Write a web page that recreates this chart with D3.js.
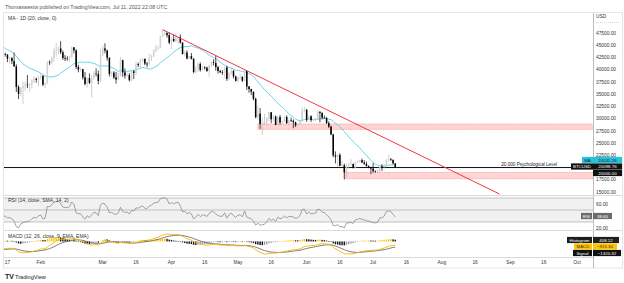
<!DOCTYPE html>
<html><head><meta charset="utf-8">
<script src="https://cdn.jsdelivr.net/npm/d3@7"></script>
<style>
body{margin:0;background:#fff;}
svg{display:block;font-family:"Liberation Sans",Arial,sans-serif;}
</style></head><body>
<svg id="c" width="624" height="283"></svg>
<script>
// ---------- DATA ----------
const startDate = "2022-01-15"; // first visible daily candle (BTCUSD, 1D)
const opens = [43099,43177,43113,42250,42375,41744,40680,36457,35030,36276,36654,36954,36852,37138,37784,38138,37917,
38483,38743,36952,37154,41500,41441,42412,43840,44118,44338,43565,42407,42244,42197,42586,44575,43961,40538,40030,40122,38431,37075,38286,37296,38332,39214,39105,37709,
43193,44354,43925,42452,39137,39400,38420,37988,38730,41941,39439,38794,38904,37849,39666,39338,41143,40951,41801,42191,41247,41078,42358,42892,43960,44348,44500,46820,47128,47465,47062,
45538,46281,45868,46453,46622,45555,43206,43503,42287,42782,42207,39521,40127,41166,39936,40553,40424,39716,40827,41503,41374,40527,39740,39478,39470,40458,38117,39241,39773,38610,
37714,38469,38529,37750,39698,36576,36040,35501,34059,30296,31023,28936,29047,29283,30101,31305,29862,30425,28720,30314,29200,29432,30323,29098,29655,29562,29268,28627,28814,29445,31726,
31792,29799,30467,29704,29832,29906,31370,31155,30214,30112,29083,28360,26762,22487,22206,22572,20381,20471,19017,20553,20599,20710,19987,21085,21231,21502,21028,20735,20280,20105,
19785,19269,19243,19297,20231,20190,20548,21637,21731,21592,20860];
const highs = [43800,43480,43180,42700,42580,43500,41100,36840,36500,37550,37550,38920,37230,38000,38720,38360,38750,
39250,38850,37390,41730,41900,42650,44500,45500,44800,45850,43920,43000,42760,42880,44750,44580,44180,40980,40450,40150,39500,38450,39250,39000,39700,40300,39850,44200,
44950,45400,44100,42500,39650,39700,39550,39380,42600,42030,40250,39400,39300,39900,39900,41700,41450,42300,42400,42300,41550,43350,43000,44200,45100,44800,46900,48190,48100,47700,47600,
46700,47200,47450,46900,47200,45555,43900,43950,42800,43400,42400,40700,41550,41500,40850,40700,40600,41000,41750,42150,42950,40800,39950,39900,40600,40800,39450,40350,39900,38800,
38650,39150,38650,39900,39850,36650,36100,35510,34250,32650,32150,30050,31000,30300,31400,31320,30750,30650,30500,30750,29600,30450,30650,29800,30200,29850,29350,28950,29550,32200,32400,
31950,30650,30680,29950,30150,31700,31550,31300,30650,30350,29450,28550,26900,23300,22750,22950,21350,20800,20800,21000,21700,20850,21200,21500,21600,21850,21500,21200,20450,20150,
20900,19400,19650,20300,20700,20650,21800,22500,21950,21600,20880];
const lows = [42600,42690,41540,41250,41150,40570,35440,34010,34600,32950,35700,36250,35510,36160,37300,37350,36630,
38000,36630,36250,37050,40980,41120,41660,42680,43120,43200,42000,41750,41870,41570,42430,43340,40120,39450,39640,38000,36800,36350,37050,34320,38000,38600,37000,37450,
42800,43350,41850,38600,38600,38100,37150,37900,38650,38550,38200,38650,37600,37600,38100,38900,40500,40150,41500,40900,40500,40900,41800,42600,43600,44100,44400,46650,46950,46550,45200,
44250,45650,45550,45150,45350,43100,42750,42100,42150,42100,39250,39250,39600,39600,39780,40000,39600,38550,40600,40850,39800,39200,39300,38950,38200,37700,37900,38900,38200,37600,
37400,38050,37500,37650,35850,35300,34800,33700,30050,29750,27900,26700,28800,28600,29500,29100,29450,28650,28650,28750,28950,29250,28900,28600,29300,28050,28300,28450,28700,29300,31250,
29350,29600,29300,29500,29500,29880,29250,29850,30000,28900,28100,26600,22100,20850,20100,20250,20300,17600,17950,19650,20350,19800,19900,20900,20900,20950,20550,20200,19850,18650,
18950,18950,18800,19050,19300,19750,20250,21200,21350,20650,19950];
const closes = [43177,43113,42250,42375,41744,40680,36457,35030,36276,36654,36954,36852,37138,37784,38138,37917,38483,
38743,36952,37154,41500,41441,42412,43840,44118,44338,43565,42407,42244,42197,42586,44575,43961,40538,40030,40122,38431,37075,38286,37296,38332,39214,39105,37709,43193,
44354,43925,42452,39137,39400,38420,37988,38730,41941,39439,38794,38904,37849,39666,39338,41143,40951,41801,42191,41247,41078,42358,42892,43960,44348,44500,46820,47128,47465,47062,45538,
46281,45868,46453,46622,45555,43206,43503,42287,42782,42207,39521,40127,41166,39936,40553,40424,39716,40827,41503,41374,40527,39740,39478,39470,40458,38117,39241,39773,38610,37714,
38469,38529,37750,39698,36576,36040,35501,34059,30296,31023,28936,29047,29283,30101,31305,29862,30425,28720,30314,29200,29432,30323,29098,29655,29562,29268,28627,28814,29445,31726,31792,
29799,30467,29704,29832,29906,31370,31155,30214,30112,29083,28360,26762,22487,22206,22572,20381,20471,19017,20553,20599,20710,19987,21085,21231,21502,21028,20735,20280,20105,19785,
19269,19243,19297,20231,20190,20548,21637,21731,21592,20860,20099];
// closes before the visible window (2021-11-01 .. 2022-01-14), only used to seed the indicators
const priorCloses = [61300,63227,62926,61444,61007,61528,63327,67566,66971,64996,64950,64155,64470,65466,63557,60161,60368,56943,58120,59697,58730,56290,57569,57166,58960,53727,54722,57275,57806,56950,
57229,56508,53713,49253,49368,50582,50700,50504,47672,47243,49362,50098,46737,48379,48864,47632,46131,46834,46681,46914,48890,48588,50838,50820,50399,50775,50702,47543,46464,47120,46216,
47722,47287,46446,45833,43425,43082,41566,41864,41822,41822,42736,43949,42592,43099];

// axis tick labels shown (20000 is covered by the level tag in the original)
const priceTicks = [15000,17500,22500,25000,27500,30000,32500,35000,37500,40000,42500,45000,47500];
const rsiTicks = [20,60];
const rsiBands = [70,50,30];
const timeTickDates = ["2022-01-17","2022-02-01","2022-03-01","2022-03-16","2022-04-01","2022-04-16","2022-05-01","2022-05-16","2022-06-01","2022-06-16","2022-07-01","2022-07-16","2022-08-01","2022-08-16","2022-09-01","2022-09-16","2022-10-01"];
const timeTickLabels = ["17","Feb","Mar","16","Apr","16","May","16","Jun","16","Jul","16","Aug","16","Sep","16","Oct"];
const zoneStarts = ["2022-05-10","2022-06-18"];
const zoneLows = [27800,17700];
const zoneHighs = [28900,19000];
const trendDates = ["2022-03-28","2022-08-27"];
const trendPrices = [48190,14600];
const psychLevel = 20000;
const psychText = "20,000 Psychological Level";
const lastValues = {ma:"20531.26", btc:"20098.76", level:"20000.00", rsi:"38.60", hist:"408.12", macd:"−915.30", signal:"−1320.32"};

// ---------- LAYOUT ----------
const svg = d3.select("#c");
const parse = d3.utcParse("%Y-%m-%d");
const start = parse(startDate);
const dates = closes.map((_, i) => d3.utcDay.offset(start, i));
const L = 4, R = 593;
const main = {t:13, b:195}, rsiP = {t:195, b:230}, macdP = {t:230, b:257};

const x = d3.scaleUtc().domain([parse("2022-02-01"), parse("2022-10-01")]).range([40.7, 577]);
const y = d3.scaleLinear().domain([15000, 47500]).range([192, 33]);
const yR = d3.scaleLinear().domain([30, 70]).range([222, 198]);

// ---------- indicators ----------
const all = priorCloses.concat(closes);
const off = priorCloses.length;
function sma(src, n){ return src.map((v,i)=> i<n-1?null:d3.sum(src.slice(i-n+1,i+1))/n); }
function ema(src, n){ const a=2/(n+1); const o=[]; src.forEach((v,i)=>{o.push(i===0?v:a*v+(1-a)*o[i-1]);}); return o; }
function rsiCalc(src, n){
  const out=[null]; let ag=0, al=0;
  for(let i=1;i<src.length;i++){
    const ch=src[i]-src[i-1], g=Math.max(ch,0), l=Math.max(-ch,0);
    if(i<=n){ ag+=g/n; al+=l/n; out.push(i===n? 100-100/(1+ag/al):null); }
    else { ag=(ag*(n-1)+g)/n; al=(al*(n-1)+l)/n; out.push(al===0?100:100-100/(1+ag/al)); }
  }
  return out;
}
const ma20 = sma(all,20).slice(off);
const rsi = rsiCalc(all,14).slice(off);
const e12 = ema(all,12), e26 = ema(all,26);
const macdAll = e12.map((v,i)=>v-e26[i]);
const sigAll = ema(macdAll,9);
const macd = macdAll.slice(off), sig = sigAll.slice(off);
const hist = macd.map((v,i)=>v-sig[i]);
const histPrev = macdAll.map((v,i)=>v-sigAll[i]).slice(off-1);

const mExt = d3.extent(macd.concat(sig, hist));
const yM = d3.scaleLinear().domain(mExt).range([macdP.b-3, macdP.t+4]);

// ---------- frame ----------
const defs = svg.append("defs");
[["cMain",main],["cRsi",rsiP],["cMacd",macdP]].forEach(([id,p])=>{
  defs.append("clipPath").attr("id",id).append("rect").attr("x",L).attr("y",p.t).attr("width",R-L).attr("height",p.b-p.t);
});

svg.append("text").attr("x",5).attr("y",9).attr("font-size",5.2).attr("fill","#555")
  .text("Thomaswestw published on TradingView.com, Jul 11, 2022 22:08 UTC");

svg.append("rect").attr("x",3.5).attr("y",12.5).attr("width",619).attr("height",255.5)
  .attr("fill","none").attr("stroke","#e6e6e6");
svg.append("line").attr("x1",R+0.5).attr("x2",R+0.5).attr("y1",13).attr("y2",268).attr("stroke","#bdbdbd");
[rsiP.t, macdP.t].forEach(v=>svg.append("line").attr("x1",L).attr("x2",622).attr("y1",v+0.5).attr("y2",v+0.5).attr("stroke","#dadada"));
svg.append("line").attr("x1",L).attr("x2",R).attr("y1",macdP.b+0.5).attr("y2",macdP.b+0.5).attr("stroke","#dadada");

// ---------- main pane ----------
const gm = svg.append("g").attr("clip-path","url(#cMain)");
// zones
zoneStarts.forEach((d,i)=>{
  const x0 = x(parse(d)), y0 = y(zoneHighs[i]), y1 = y(zoneLows[i]);
  gm.append("rect").attr("x",x0).attr("y",y0).attr("width",R-x0).attr("height",y1-y0).attr("fill","#ffd4d4");
  [y0,y1].forEach(v=>gm.append("line").attr("x1",x0).attr("x2",R).attr("y1",v).attr("y2",v)
     .attr("stroke","#f59a9a").attr("stroke-width",0.8).attr("stroke-dasharray","1.5,1"));
  gm.append("line").attr("x1",x0).attr("x2",x0).attr("y1",y0).attr("y2",y1).attr("stroke","#f59a9a").attr("stroke-width",0.8).attr("stroke-dasharray","1.5,1");
});
// psychological level
gm.append("line").attr("x1",L).attr("x2",R).attr("y1",y(psychLevel)).attr("y2",y(psychLevel)).attr("stroke","#111").attr("stroke-width",1);
gm.append("text").attr("x",557).attr("y",y(psychLevel)-2).attr("text-anchor","end").attr("font-size",4.6).attr("fill","#222").text(psychText);
// MA
gm.append("path").datum(ma20.map((v,i)=>[dates[i],v]))
  .attr("d",d3.line().x(d=>x(d[0])).y(d=>y(d[1]))).attr("fill","none").attr("stroke","#55d0e6").attr("stroke-width",0.9);
// candles
const bw = 1.5;
const cg = gm.append("g").selectAll("g").data(closes).join("g");
cg.append("line").attr("x1",(d,i)=>x(dates[i])).attr("x2",(d,i)=>x(dates[i]))
  .attr("y1",(d,i)=>y(highs[i])).attr("y2",(d,i)=>y(lows[i]))
  .attr("stroke",(d,i)=>d>=opens[i]?"#bcbcbc":"#000").attr("stroke-width",0.7);
cg.append("rect").attr("x",(d,i)=>x(dates[i])-bw/2).attr("width",bw)
  .attr("y",(d,i)=>y(Math.max(d,opens[i])))
  .attr("height",(d,i)=>Math.max(0.6,Math.abs(y(d)-y(opens[i]))))
  .attr("fill",(d,i)=>d>=opens[i]?"#d2d2d2":"#000");
// trendline
gm.append("line").attr("x1",x(parse(trendDates[0]))).attr("y1",y(trendPrices[0]))
  .attr("x2",x(parse(trendDates[1]))).attr("y2",y(trendPrices[1])).attr("stroke","#f23645").attr("stroke-width",1);
gm.append("text").attr("x",8).attr("y",20).attr("font-size",5).attr("fill","#333").text("MA - 1D (20, close, 0)");

// price axis
svg.append("text").attr("x",596).attr("y",18).attr("font-size",4.8).attr("fill","#333").text("USD");
svg.append("line").attr("x1",596).attr("x2",620).attr("y1",22.5).attr("y2",22.5).attr("stroke","#aaa").attr("stroke-width",0.5).attr("stroke-dasharray","1,1");
svg.append("g").selectAll("text").data(priceTicks).join("text")
  .attr("x",596).attr("y",d=>y(d)).attr("dy","0.35em").attr("font-size",4.8).attr("fill","#333")
  .text(d=>d3.format(".2f")(d));

function tag(xl, yc, w, txt, bg, fg){
  svg.append("rect").attr("x",xl).attr("y",yc-3.1).attr("width",w).attr("height",6.2).attr("fill",bg);
  svg.append("text").attr("x",xl+w/2).attr("y",yc).attr("dy","0.35em").attr("text-anchor","middle")
    .attr("font-size",4.4).attr("fill",fg).text(txt);
}
tag(582,160,11,"MA","#22c4e0","#222"); tag(593,160,29,lastValues.ma,"#22c4e0","#222");
tag(571,166.5,22,"BTCUSD","#111","#fff"); tag(593,166.5,29,lastValues.btc,"#111","#fff");
tag(593,173,29,lastValues.level,"#111","#fff");

// ---------- RSI pane ----------
const gr = svg.append("g").attr("clip-path","url(#cRsi)");
gr.append("rect").attr("x",L).attr("width",R-L).attr("y",yR(70)).attr("height",yR(30)-yR(70)).attr("fill","#f1f1f1");
rsiBands.forEach(v=>gr.append("line").attr("x1",L).attr("x2",R).attr("y1",yR(v)).attr("y2",yR(v)).attr("stroke","#a9a9a9").attr("stroke-width",0.7));
gr.append("path").datum(rsi.map((v,i)=>[dates[i],v]))
  .attr("d",d3.line().x(d=>x(d[0])).y(d=>yR(d[1]))).attr("fill","none").attr("stroke","#8a8a8a").attr("stroke-width",0.8);
svg.append("text").attr("x",8).attr("y",202).attr("font-size",5).attr("fill","#333").text("RSI (14, close, SMA, 14, 2)");
svg.append("g").selectAll("text").data(rsiTicks).join("text")
  .attr("x",596).attr("y",d=>yR(d)).attr("dy","0.35em").attr("font-size",4.8).attr("fill","#333").text(d=>d3.format(".2f")(d));
tag(581,216,11,"RSI","#6b6b6b","#fff"); tag(593,216,19,lastValues.rsi,"#6b6b6b","#fff");

// ---------- MACD pane ----------
const gmc = svg.append("g").attr("clip-path","url(#cMacd)");
gmc.append("g").selectAll("rect").data(hist).join("rect")
  .attr("x",(d,i)=>x(dates[i])-0.7).attr("width",1.4)
  .attr("y",d=>Math.min(yM(d),yM(0))).attr("height",d=>Math.max(0.5,Math.abs(yM(d)-yM(0))))
  .attr("fill",(d,i)=>{const p=histPrev[i]; if(d>=0) return d>p?"#ffc400":"#111"; return d<p?"#111":"#9a9a9a";});
gmc.append("path").datum(sig.map((v,i)=>[dates[i],v]))
  .attr("d",d3.line().x(d=>x(d[0])).y(d=>yM(d[1]))).attr("fill","none").attr("stroke","#6d6d6d").attr("stroke-width",0.9);
gmc.append("path").datum(macd.map((v,i)=>[dates[i],v]))
  .attr("d",d3.line().x(d=>x(d[0])).y(d=>yM(d[1]))).attr("fill","none").attr("stroke","#f7b500").attr("stroke-width",0.9);
svg.append("text").attr("x",8).attr("y",238).attr("font-size",5).attr("fill","#333").text("MACD (12, 26, close, 9, EMA, EMA)");
tag(567,240,25,"Histogram","#1e1e1e","#fff"); tag(593,240,26,lastValues.hist,"#1e1e1e","#fff");
tag(574,246.5,18,"MACD","#ffc400","#333"); tag(593,246.5,24,lastValues.macd,"#ffc400","#333");
tag(573,253,19,"Signal","#111","#fff"); tag(593,253,28,lastValues.signal,"#111","#fff");

// ---------- time axis ----------
svg.append("g").selectAll("text").data(timeTickDates).join("text")
  .attr("x",d=>x(parse(d))).attr("y",264).attr("text-anchor","middle").attr("font-size",4.8).attr("fill","#333")
  .text((d,i)=>timeTickLabels[i]);

// ---------- footer logo ----------
svg.append("text").attr("x",5).attr("y",279).attr("font-size",7).attr("font-weight","bold").attr("fill","#131722").text("TV");
svg.append("text").attr("x",15).attr("y",279).attr("font-size",5.6).attr("fill","#131722").text("TradingView");
</script>
</body></html>
